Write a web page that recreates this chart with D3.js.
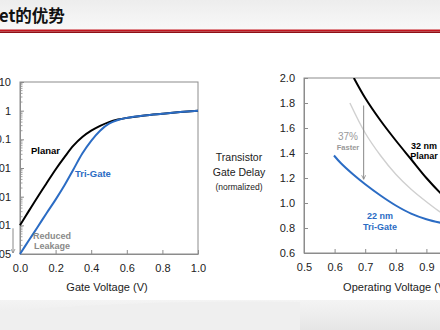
<!DOCTYPE html>
<html><head><meta charset="utf-8">
<script src="https://cdn.jsdelivr.net/npm/d3@7"></script>
<style>html,body{margin:0;padding:0;background:#fff;overflow:hidden}svg{display:block;font-family:"Liberation Sans",Arial,sans-serif}</style>
</head><body>
<script>
// ---- data ----
const titleText = "et的优势";
const gateVoltage = [0,0.05,0.1,0.15,0.2,0.25,0.3,0.35,0.4,0.45,0.5,0.55,0.6,0.7,0.8,0.9,1.0];
const planarCurrent = [1e-4,3.2e-4,1e-3,3.0e-3,8.9e-3,0.024,0.060,0.12,0.20,0.295,0.40,0.49,0.56,0.68,0.78,0.89,1.0];
const trigateCurrent = [1e-5,3.0e-5,8.9e-5,2.7e-4,7.9e-4,2.5e-3,8.9e-3,0.032,0.089,0.20,0.35,0.47,0.56,0.68,0.78,0.89,1.0];
const currentTicks = [1e-5,1e-4,1e-3,0.01,0.1,1,10];
const currentTickLabels = ["1E-05","0.0001","0.001","0.01","0.1","1","10"];
const gateTicks = [0,0.2,0.4,0.6,0.8,1.0];

const planar32V = [0.663,0.70,0.75,0.80,0.85,0.90,0.95,1.0,1.05,1.1];
const planar32Delay = [2.0,1.84,1.66,1.50,1.35,1.20,1.07,0.96,0.87,0.80];
const refV = [0.65,0.70,0.75,0.80,0.85,0.90,0.95,1.0,1.05,1.1];
const refDelay = [1.80,1.56,1.38,1.23,1.11,1.01,0.92,0.86,0.81,0.77];
const trigate22V = [0.598,0.62,0.66,0.70,0.75,0.80,0.85,0.90,0.95,1.0,1.05,1.1];
const trigate22Delay = [1.38,1.32,1.23,1.15,1.06,0.98,0.915,0.87,0.84,0.818,0.80,0.79];
const opTicks = [0.5,0.6,0.7,0.8,0.9,1.0];
const delayTicks = [0.6,0.8,1.0,1.2,1.4,1.6,1.8,2.0];

const W = 440, H = 330;
const BLUE = "#2b6cc4", FRAME = "#8c8c8c", TXT = "#222";
const svg = d3.select("body").append("svg").attr("width", W).attr("height", H);

// background
const defs = svg.append("defs");
const g1 = defs.append("linearGradient").attr("id","topg").attr("x1",0).attr("y1",0).attr("x2",0).attr("y2",1);
g1.append("stop").attr("offset","0").attr("stop-color","#ededed");
g1.append("stop").attr("offset","1").attr("stop-color","#f8f8f8");
const g2 = defs.append("linearGradient").attr("id","botg").attr("x1",0).attr("y1",0).attr("x2",0).attr("y2",1);
g2.append("stop").attr("offset","0").attr("stop-color","#f4f4f4");
g2.append("stop").attr("offset","1").attr("stop-color","#e6e6e6");
svg.append("rect").attr("width",W).attr("height",H).attr("fill","#fff");
svg.append("rect").attr("width",W).attr("height",30).attr("fill","url(#topg)");
svg.append("rect").attr("y",300).attr("width",W).attr("height",30).attr("fill","url(#botg)");
svg.append("path").attr("d","M0,312 C80,304 200,300 300,302 L300,330 L0,330Z").attr("fill","#efefef");

// header
svg.append("text").attr("x",-1).attr("y",22).attr("font-size",16.5).attr("font-weight","bold")
  .attr("font-family","'Noto Sans CJK SC','Liberation Sans',sans-serif").attr("fill","#111").text(titleText);
svg.append("rect").attr("x",0).attr("y",29.5).attr("width",W).attr("height",2).attr("fill","#c3161f");
svg.append("rect").attr("x",0).attr("y",31.5).attr("width",W).attr("height",1.5).attr("fill","#8e0f15");

// ---- left chart ----
const xL = d3.scaleLinear().domain([0,1]).range([20,198]);
const yL = d3.scaleLog().domain([1e-5,10]).range([254,82]);
const left = svg.append("g");
left.append("rect").attr("x",20).attr("y",82).attr("width",178).attr("height",172)
  .attr("fill","none").attr("stroke",FRAME).attr("stroke-width",1);
const minor = [];
for (let e=-5; e<1; e++) for (let m=2; m<10; m++) minor.push(m*Math.pow(10,e));
left.append("g").selectAll("line").data(minor).join("line")
  .attr("x1",20).attr("x2",22.5).attr("y1",d=>yL(d)).attr("y2",d=>yL(d)).attr("stroke",FRAME).attr("stroke-width",0.8);
const axLx = left.append("g").attr("transform","translate(0,254)")
  .call(d3.axisBottom(xL).tickValues(gateTicks).tickFormat(d3.format(".1f")).tickSizeInner(-4).tickSizeOuter(0).tickPadding(10));
const axLy = left.append("g").attr("transform","translate(20,0)")
  .call(d3.axisLeft(yL).tickValues(currentTicks).tickFormat((d,i)=>currentTickLabels[i]).tickSizeInner(-4).tickSizeOuter(0).tickPadding(9));
[axLx,axLy].forEach(a=>{a.select(".domain").attr("stroke",FRAME);a.selectAll(".tick line").attr("stroke",FRAME);
  a.selectAll("text").attr("font-size",11).attr("fill",TXT).attr("font-family","'Liberation Sans',Arial,sans-serif");});
const lineL = d3.line().x(d=>xL(d[0])).y(d=>yL(d[1])).curve(d3.curveCatmullRom.alpha(0.5));
left.append("path").attr("d",lineL(d3.zip(gateVoltage,planarCurrent))).attr("fill","none").attr("stroke","#000").attr("stroke-width",2);
left.append("path").attr("d",lineL(d3.zip(gateVoltage,trigateCurrent))).attr("fill","none").attr("stroke",BLUE).attr("stroke-width",2);
left.append("text").attr("x",31).attr("y",154).attr("font-size",9.5).attr("font-weight","bold").attr("fill","#000").text("Planar");
left.append("text").attr("x",75).attr("y",177).attr("font-size",9.5).attr("font-weight","bold").attr("fill",BLUE).text("Tri-Gate");
left.append("text").attr("x",52).attr("y",239).attr("text-anchor","middle").attr("font-size",9).attr("font-weight","bold").attr("fill","#8a8a8a").text("Reduced");
left.append("text").attr("x",52).attr("y",249).attr("text-anchor","middle").attr("font-size",9).attr("font-weight","bold").attr("fill","#8a8a8a").text("Leakage");
defs.append("marker").attr("id","ah").attr("viewBox","0 0 10 10").attr("refX",9).attr("refY",5)
  .attr("markerWidth",5).attr("markerHeight",5).attr("orient","auto")
  .append("path").attr("d","M1,1 L9,5 L1,9").attr("fill","none").attr("stroke","#888").attr("stroke-width",1.6);
left.append("line").attr("x1",13).attr("x2",13).attr("y1",yL(1e-4)+3).attr("y2",yL(1e-5)-1)
  .attr("stroke","#888").attr("stroke-width",1).attr("marker-end","url(#ah)");
left.append("text").attr("x",107).attr("y",291).attr("text-anchor","middle").attr("font-size",11).attr("fill",TXT).text("Gate Voltage (V)");

// ---- right chart ----
const xR = d3.scaleLinear().domain([0.5,1.1]).range([304,487.6]);
const yR = d3.scaleLinear().domain([0.6,2.0]).range([253,78]);
const right = svg.append("g");
defs.append("clipPath").attr("id","clipR").append("rect").attr("x",304).attr("y",78).attr("width",184).attr("height",175);
right.append("rect").attr("x",304).attr("y",78).attr("width",183.6).attr("height",175)
  .attr("fill","none").attr("stroke",FRAME).attr("stroke-width",1);
const axRx = right.append("g").attr("transform","translate(0,253)")
  .call(d3.axisBottom(xR).tickValues(opTicks).tickFormat(d3.format(".1f")).tickSizeInner(-4).tickSizeOuter(0).tickPadding(10));
const axRy = right.append("g").attr("transform","translate(304,0)")
  .call(d3.axisLeft(yR).tickValues(delayTicks).tickFormat(d3.format(".1f")).tickSizeInner(-4).tickSizeOuter(0).tickPadding(9));
[axRx,axRy].forEach(a=>{a.select(".domain").attr("stroke",FRAME);a.selectAll(".tick line").attr("stroke",FRAME);
  a.selectAll("text").attr("font-size",11).attr("fill",TXT).attr("font-family","'Liberation Sans',Arial,sans-serif");});
const lineR = d3.line().x(d=>xR(d[0])).y(d=>yR(d[1])).curve(d3.curveCatmullRom.alpha(0.5));
const curves = right.append("g").attr("clip-path","url(#clipR)");
curves.append("path").attr("d",lineR(d3.zip(refV,refDelay))).attr("fill","none").attr("stroke","#d0d0d0").attr("stroke-width",1.4);
curves.append("path").attr("d",lineR(d3.zip(planar32V,planar32Delay))).attr("fill","none").attr("stroke","#000").attr("stroke-width",2);
curves.append("path").attr("d",lineR(d3.zip(trigate22V,trigate22Delay))).attr("fill","none").attr("stroke",BLUE).attr("stroke-width",2);
right.append("line").attr("x1",xR(0.695)).attr("x2",xR(0.695)).attr("y1",yR(1.78)).attr("y2",yR(1.19))
  .attr("stroke","#888").attr("stroke-width",1).attr("marker-end","url(#ah)");
right.append("text").attr("x",348).attr("y",140).attr("text-anchor","middle").attr("font-size",10).attr("fill","#999").text("37%");
right.append("text").attr("x",348).attr("y",149.5).attr("text-anchor","middle").attr("font-size",7.5).attr("font-weight","bold").attr("fill","#999").text("Faster");
right.append("text").attr("x",424).attr("y",149).attr("text-anchor","middle").attr("font-size",9).attr("font-weight","bold").attr("fill","#000").text("32 nm");
right.append("text").attr("x",424).attr("y",159).attr("text-anchor","middle").attr("font-size",9).attr("font-weight","bold").attr("fill","#000").text("Planar");
right.append("text").attr("x",380).attr("y",219).attr("text-anchor","middle").attr("font-size",9).attr("font-weight","bold").attr("fill",BLUE).text("22 nm");
right.append("text").attr("x",380).attr("y",230).attr("text-anchor","middle").attr("font-size",9).attr("font-weight","bold").attr("fill",BLUE).text("Tri-Gate");
right.append("text").attr("x",396).attr("y",291).attr("text-anchor","middle").attr("font-size",11).attr("fill",TXT).text("Operating Voltage (V)");
const yt = svg.append("g").attr("text-anchor","middle").attr("fill",TXT);
yt.append("text").attr("x",239).attr("y",161).attr("font-size",10.5).text("Transistor");
yt.append("text").attr("x",239).attr("y",176).attr("font-size",10.5).text("Gate Delay");
yt.append("text").attr("x",239).attr("y",190).attr("font-size",8.5).text("(normalized)");
</script>
</body></html>
